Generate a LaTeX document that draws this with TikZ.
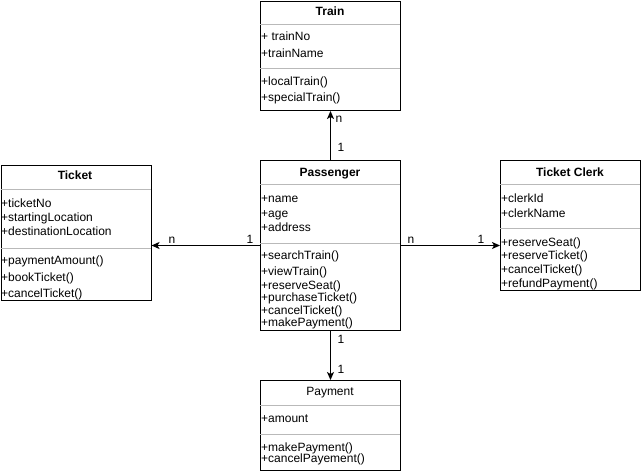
\documentclass[tikz,border=0pt]{standalone}
\usepackage{fontspec}
\setmainfont{Liberation Sans}
\usetikzlibrary{arrows.meta}
\begin{document}
\begin{tikzpicture}[x=1pt,y=-1pt,
  cls/.style={draw=black,line width=1pt,rectangle,inner sep=0pt,anchor=north west},
  sepline/.style={draw=gray!55,line width=1pt},
  txt/.style={anchor=base west,inner sep=0pt,font=\fontsize{12}{14}\selectfont},
  ttl/.style={anchor=base,inner sep=0pt,font=\fontsize{12}{14}\selectfont\bfseries},
  ttlplain/.style={anchor=base,inner sep=0pt,font=\fontsize{12}{14}\selectfont},
  lbl/.style={anchor=base,inner sep=0pt,font=\fontsize{12}{14}\selectfont},
  assoc/.style={line width=1pt,-{Stealth[length=8pt,width=7pt,inset=2pt]}}]
\useasboundingbox (0,0) rectangle (641,471);

% Train
\node[cls,minimum width=140pt,minimum height=109pt] (train) at (260,1) {};
\draw[sepline] (260,24) -- (400,24);
\draw[sepline] (260,68) -- (400,68);
\node[ttl] (trainT) at (330,16) {Train};
\node[txt] (train1) at (261,41) {+ trainNo};
\node[txt] (train2) at (261,57) {+trainName};
\node[txt] (train3) at (261,85) {+localTrain()};
\node[txt] (train4) at (261,101) {+specialTrain()};

% Ticket
\node[cls,minimum width=150pt,minimum height=135pt] (ticket) at (0.5,165) {};
\draw[sepline] (0.5,189) -- (150.5,189);
\draw[sepline] (0.5,248) -- (150.5,248);
\node[ttl] (ticketT) at (75,179) {Ticket};
\node[txt] (ticket1) at (1,207) {+ticketNo};
\node[txt] (ticket2) at (1,221) {+startingLocation};
\node[txt] (ticket3) at (1,235) {+destinationLocation};
\node[txt] (ticket4) at (1,264) {+paymentAmount()};
\node[txt] (ticket5) at (1,281) {+bookTicket()};
\node[txt] (ticket6) at (1,297) {+cancelTicket()};

% Passenger
\node[cls,minimum width=140pt,minimum height=170pt] (pass) at (260,160) {};
\draw[sepline] (260,184) -- (400,184);
\draw[sepline] (260,243) -- (400,243);
\node[ttl] (passT) at (330,176) {Passenger};
\node[txt] (pass1) at (261,202) {+name};
\node[txt] (pass2) at (261,217) {+age};
\node[txt] (pass3) at (261,231) {+address};
\node[txt] (pass4) at (261,259) {+searchTrain()};
\node[txt] (pass5) at (261,275) {+viewTrain()};
\node[txt] (pass6) at (261,289) {+reserveSeat()};
\node[txt] (pass7) at (261,301) {+purchaseTicket()};
\node[txt] (pass8) at (261,314) {+cancelTicket()};
\node[txt] (pass9) at (261,326) {+makePayment()};

% Ticket Clerk
\node[cls,minimum width=140pt,minimum height=130pt] (clerk) at (500,160) {};
\draw[sepline] (500,184) -- (640,184);
\draw[sepline] (500,228) -- (640,228);
\node[ttl] (clerkT) at (570,176) {Ticket Clerk};
\node[txt] (clerk1) at (501,202) {+clerkId};
\node[txt] (clerk2) at (501,217) {+clerkName};
\node[txt] (clerk3) at (501,246) {+reserveSeat()};
\node[txt] (clerk4) at (501,259) {+reserveTicket()};
\node[txt] (clerk5) at (501,273) {+cancelTicket()};
\node[txt] (clerk6) at (501,287) {+refundPayment()};

% Payment
\node[cls,minimum width=140pt,minimum height=90pt] (pay) at (260,380) {};
\draw[sepline] (260,405) -- (400,405);
\draw[sepline] (260,434) -- (400,434);
\node[ttlplain] (payT) at (330,395) {Payment};
\node[txt] (pay1) at (261,422) {+amount};
\node[txt] (pay2) at (261,451) {+makePayment()};
\node[txt] (pay3) at (261,462) {+cancelPayement()};

% Associations
\draw[assoc] (pass.north) -- (train.south);
\draw[assoc] (pass.west) -- (ticket.east |- pass.west);
\draw[assoc] (pass.east) -- (clerk.west |- pass.east);
\draw[assoc] (pass.south) -- (pay.north);

% Multiplicities
\node[lbl] (m1) at (339,122) {n};
\node[lbl] (m2) at (341,151) {1};
\node[lbl] (m3) at (172,243) {n};
\node[lbl] (m4) at (250,243) {1};
\node[lbl] (m5) at (411,243) {n};
\node[lbl] (m6) at (481,243) {1};
\node[lbl] (m7) at (341,343) {1};
\node[lbl] (m8) at (341,373) {1};
\end{tikzpicture}
\end{document}
